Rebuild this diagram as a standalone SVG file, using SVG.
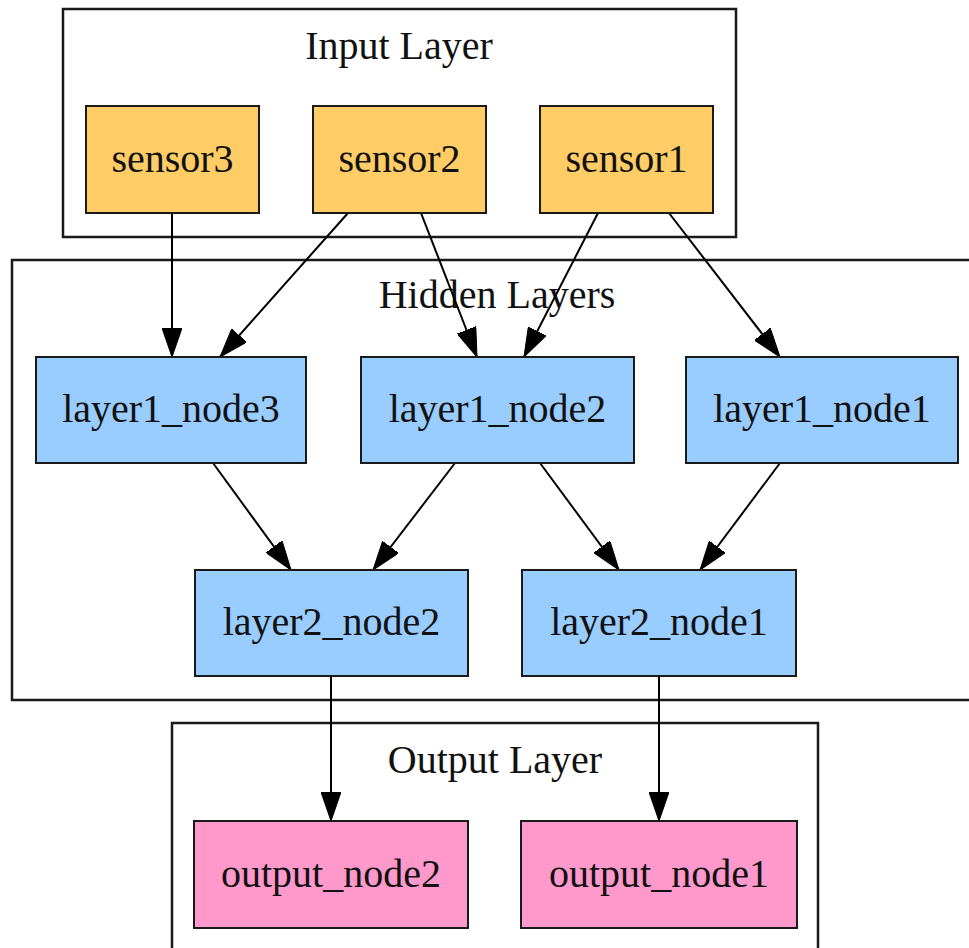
<svg xmlns="http://www.w3.org/2000/svg" width="969" height="948" viewBox="0 0 969 948">
  <style>
    .cluster { fill: none; stroke: #1a1a1a; stroke-width: 2.5; }
    .node rect { stroke: #1a1a1a; stroke-width: 2; }
    .sensor rect { fill: #FFCC66; }
    .hidden rect { fill: #99CCFF; }
    .output rect { fill: #FF99CC; }
    text { font-family: "Liberation Serif", "Times New Roman", serif; font-size: 40px; fill: #111; text-anchor: middle; }
    .edges line { stroke: #000; stroke-width: 2; marker-end: url(#arrow); }
  </style>
  <defs>
    <marker id="arrow" viewBox="0 0 29 20" refX="29" refY="10" markerWidth="29" markerHeight="20" orient="auto" markerUnits="userSpaceOnUse">
      <path d="M0,0 L29,10 L0,20 Z" fill="#000" stroke="#000" stroke-width="1"/>
    </marker>
  </defs>
  <rect width="969" height="948" fill="#ffffff"/>

  <g id="cluster_input">
    <rect class="cluster" x="63" y="9" width="673" height="228"/>
    <text x="399" y="59">Input Layer</text>
  </g>
  <g id="cluster_hidden">
    <rect class="cluster" x="12" y="260" width="975" height="440"/>
    <text x="497" y="308">Hidden Layers</text>
  </g>
  <g id="cluster_output">
    <rect class="cluster" x="172" y="723" width="646" height="240"/>
    <text x="495" y="773">Output Layer</text>
  </g>

  <g class="edges" id="connectors">
    <line x1="172" y1="213" x2="172" y2="357"/>
    <line x1="348" y1="213" x2="220" y2="357"/>
    <line x1="421" y1="213" x2="477" y2="357"/>
    <line x1="598" y1="213" x2="524" y2="357"/>
    <line x1="669" y1="213" x2="780" y2="357"/>
    <line x1="213" y1="463" x2="291" y2="570"/>
    <line x1="455" y1="463" x2="373" y2="570"/>
    <line x1="540" y1="463" x2="619" y2="570"/>
    <line x1="780" y1="463" x2="700" y2="570"/>
    <line x1="331" y1="676" x2="331" y2="821"/>
    <line x1="659" y1="676" x2="659" y2="821"/>
  </g>

  <g id="sensor3" class="node sensor">
    <rect x="86" y="106" width="173" height="107"/>
    <text x="172.5" y="172">sensor3</text>
  </g>
  <g id="sensor2" class="node sensor">
    <rect x="313" y="106" width="173" height="107"/>
    <text x="399.5" y="172">sensor2</text>
  </g>
  <g id="sensor1" class="node sensor">
    <rect x="540" y="106" width="173" height="107"/>
    <text x="626.5" y="172">sensor1</text>
  </g>

  <g id="layer1_node3" class="node hidden">
    <rect x="36" y="357" width="270" height="106"/>
    <text x="171" y="422">layer1_node3</text>
  </g>
  <g id="layer1_node2" class="node hidden">
    <rect x="361" y="357" width="273" height="106"/>
    <text x="497.5" y="422">layer1_node2</text>
  </g>
  <g id="layer1_node1" class="node hidden">
    <rect x="686" y="357" width="272" height="106"/>
    <text x="822" y="422">layer1_node1</text>
  </g>

  <g id="layer2_node2" class="node hidden">
    <rect x="195" y="570" width="273" height="106"/>
    <text x="331.5" y="635">layer2_node2</text>
  </g>
  <g id="layer2_node1" class="node hidden">
    <rect x="522" y="570" width="274" height="106"/>
    <text x="659" y="635">layer2_node1</text>
  </g>

  <g id="output_node2" class="node output">
    <rect x="194" y="821" width="274" height="107"/>
    <text x="331" y="887">output_node2</text>
  </g>
  <g id="output_node1" class="node output">
    <rect x="521" y="821" width="276" height="107"/>
    <text x="659" y="887">output_node1</text>
  </g>
</svg>
